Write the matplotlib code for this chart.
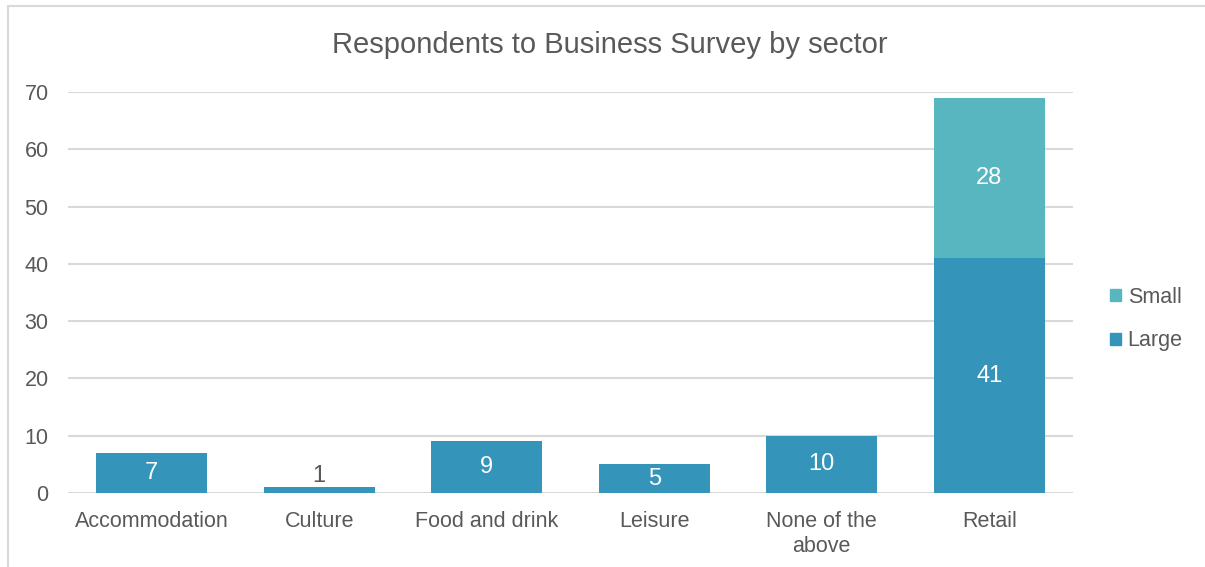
import matplotlib
matplotlib.use("Agg")
import matplotlib.pyplot as plt
from matplotlib.patches import Rectangle, Patch

plt.rcParams['font.family'] = ['Liberation Sans', 'DejaVu Sans']

categories = ["Accommodation", "Culture", "Food and drink", "Leisure", "None of the\nabove", "Retail"]
large = [7, 1, 9, 5, 10, 41]
small = [0, 0, 0, 0, 0, 28]
yticks = [0, 10, 20, 30, 40, 50, 60, 70]

c_large = "#3494BA"
c_small = "#58B6C0"
txt = "#595959"
grid = "#D9D9D9"

fig = plt.figure(figsize=(12.05, 5.67), dpi=100)
ax = fig.add_axes([68/1205, 1-493/567, (1073-68)/1205, (493-92)/567])

x = list(range(len(categories)))
ax.bar(x, large, width=0.66, color=c_large, zorder=3)
ax.bar(x, small, width=0.66, bottom=large, color=c_small, zorder=3)

for i in x:
    if large[i] >= 3:
        ax.text(i, large[i]/2, str(large[i]), ha='center', va='center', color='white', fontsize=17, zorder=4)
    elif large[i] > 0:
        ax.text(i, large[i] + 0.1, str(large[i]), ha='center', va='bottom', color=txt, fontsize=17, zorder=4)
    if small[i] > 0:
        ax.text(i, large[i] + small[i]/2, str(small[i]), ha='center', va='center', color='white', fontsize=17, zorder=4)

ax.set_xlim(-0.5, len(categories)-0.5)
ax.set_ylim(0, 70)
ax.set_yticks(yticks)
ax.set_xticks(x)
ax.set_xticklabels(categories, fontsize=15.5, color=txt, linespacing=1.25)
ax.tick_params(axis='y', labelsize=15.5, labelcolor=txt, length=0, pad=14)
ax.tick_params(axis='x', length=0, pad=13)
ax.grid(axis='y', color=grid, linewidth=1.5, zorder=0)
for s in ax.spines.values():
    s.set_visible(False)

fig.text(610/1205, 1-45/567, "Respondents to Business Survey by sector", ha='center', va='center',
         fontsize=21, color=txt)

handles = [Patch(color=c_small, label="Small"), Patch(color=c_large, label="Large")]
fig.legend(handles=handles, loc='center left', bbox_to_anchor=(1091/1205, 1-319/567), frameon=False,
           fontsize=15.5, labelcolor=txt, handlelength=0.5, handleheight=0.5, handletextpad=0.3,
           labelspacing=1.05)

# chart border (left and top visible)
fig.add_artist(Rectangle((8/1205, -0.1), 1.5, 1.1 - 6/567, transform=fig.transFigure,
                         fill=False, edgecolor=grid, linewidth=1.5))

fig.savefig("out.png", dpi=100)
